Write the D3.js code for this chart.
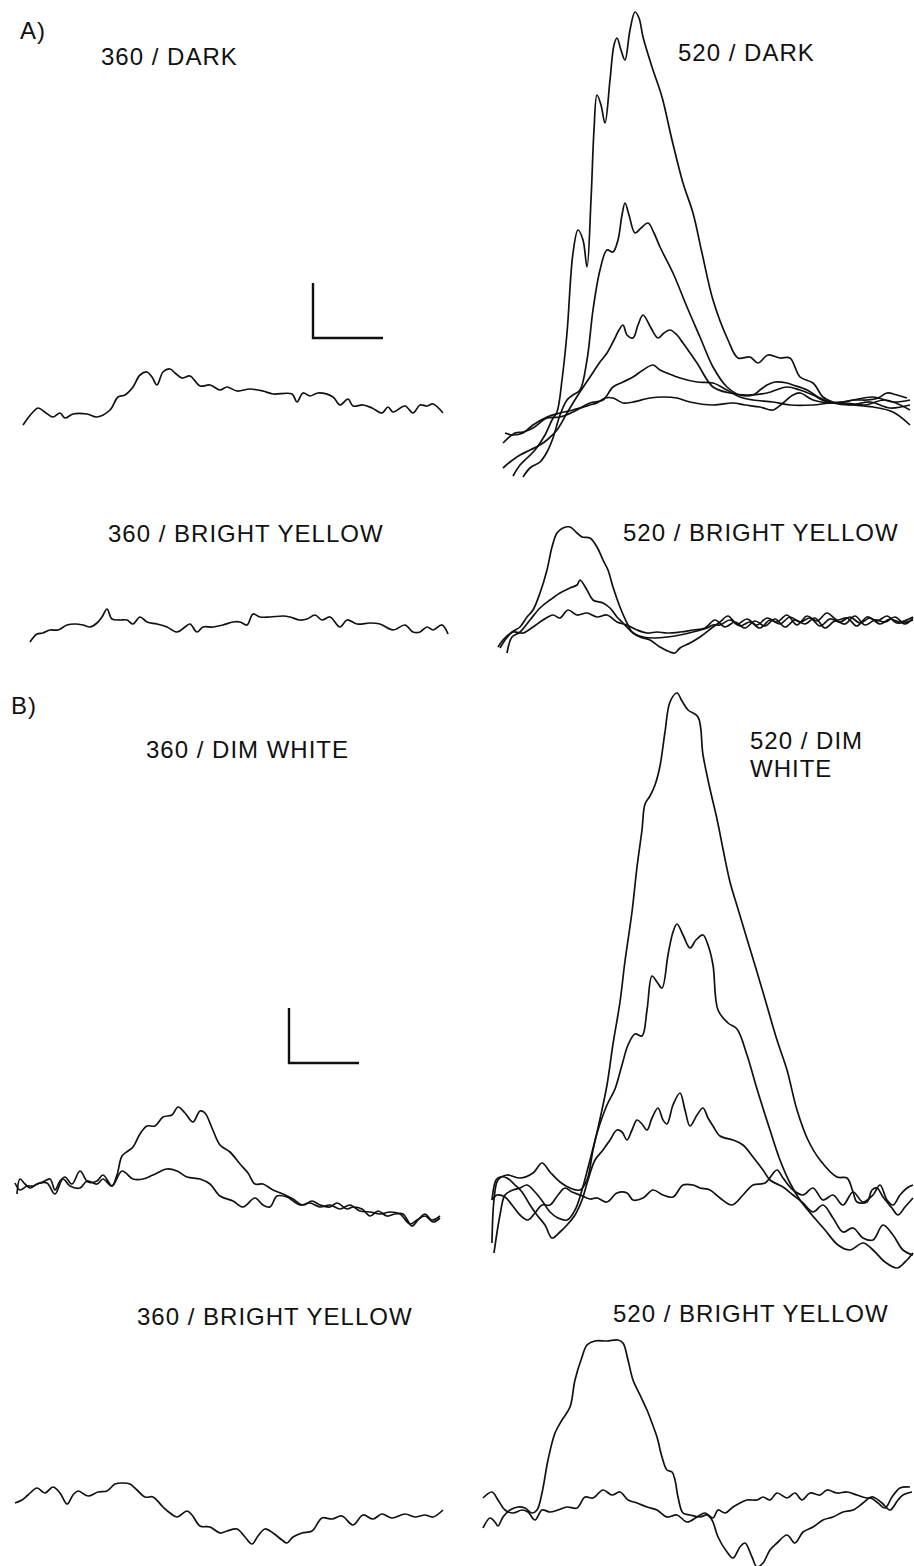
<!DOCTYPE html>
<html>
<head>
<meta charset="utf-8">
<script src="https://cdn.jsdelivr.net/npm/d3@7"></script>
<style>
  body { margin: 0; background: #fff; }
  svg { display: block; }
  .lbl { font-family: "Liberation Sans", Arial, Helvetica, sans-serif; font-size: 24px; fill: #111; letter-spacing: 1px; }
  .trace { fill: none; stroke: #111; stroke-width: 1.7; stroke-linejoin: round; }
  .bar { fill: none; stroke: #111; stroke-width: 2.4; }
</style>
</head>
<body>
<svg id="fig" width="914" height="1566"></svg>
<script>
/**
 * Traces: [time (ms), response (uV)] pairs.
 */
// A) 360 / DARK
var dark360 = [[3,0],[8,7],[13,13],[18,17],[26,12],[33,8],[40,12],[45,7],[53,11],[67,11],[77,8],[90,15],[98,28],[105,30],[113,38],[120,50],[127,53],[132,48],[137,40],[143,53],[150,56],[155,52],[162,47],[170,49],[180,39],[190,40],[200,35],[207,38],[217,34],[230,36],[243,34],[253,31],[272,31],[277,23],[283,32],[290,29],[298,32],[313,28],[320,20],[328,26],[333,19],[343,20],[352,17],[362,12],[368,18],[373,13],[385,19],[393,12],[400,20],[407,19],[413,21],[423,12]];

// A) 520 / DARK, five intensities
var dark520a = [[13,-6],[20,5],[27,12],[35,20],[45,35],[52,50],[57,58],[62,90],[67,137],[73,217],[78,240],[83,230],[87,203],[91,270],[94,340],[97,375],[101,365],[105,347],[110,390],[114,425],[117,432],[121,420],[125,410],[130,440],[135,458],[139,452],[143,433],[152,403],[162,373],[172,330],[183,287],[193,257],[202,217],[213,170],[228,130],[238,112],[250,113],[258,107],[268,115],[280,112],[290,112],[300,93],[313,87],[323,73],[333,68],[343,68],[355,70],[367,70],[378,72],[387,77],[397,75],[407,72]];
var dark520b = [[23,-7],[30,2],[40,8],[47,18],[53,32],[60,55],[67,70],[73,75],[80,80],[87,110],[93,160],[100,200],[107,220],[113,218],[118,230],[122,255],[125,267],[129,255],[135,237],[141,242],[148,247],[154,237],[160,223],[173,197],[187,163],[200,133],[213,103],[227,83],[240,75],[253,75],[260,80],[267,85],[275,88],[287,87],[293,85],[307,80],[320,72],[333,67],[350,65],[370,68],[390,62],[410,65]];
var dark520c = [[3,2],[10,8],[20,15],[30,20],[40,25],[47,30],[57,40],[67,57],[78,75],[90,93],[100,108],[107,117],[114,130],[119,140],[123,145],[127,135],[133,132],[138,145],[143,155],[151,142],[158,132],[164,137],[170,140],[177,135],[183,127],[197,107],[213,83],[230,77],[247,75],[267,77],[287,83],[300,80],[313,75],[327,68],[345,67],[365,65],[385,70],[410,60]];
var dark520d = [[3,27],[15,37],[23,38],[33,42],[47,52],[60,53],[73,58],[90,67],[103,70],[113,83],[123,88],[133,93],[143,100],[153,105],[160,100],[167,97],[180,92],[197,88],[213,87],[227,80],[240,73],[253,70],[273,68],[290,65],[313,65],[333,67],[353,65],[373,63],[393,58],[410,45]];
var dark520e = [[5,37],[13,35],[23,37],[33,45],[47,53],[60,57],[73,60],[90,65],[97,67],[105,72],[113,72],[123,67],[133,68],[150,72],[163,73],[177,72],[190,68],[213,65],[233,67],[245,65],[260,63],[273,60],[283,67],[293,75],[300,77],[313,70],[333,67],[353,70],[373,73],[393,68],[410,70]];

// A) 360 / BRIGHT YELLOW
var yellowA360 = [[5,-2],[12,6],[18,7],[25,10],[33,10],[42,15],[50,16],[58,15],[65,13],[72,17],[77,23],[82,31],[87,21],[95,20],[102,20],[108,16],[115,23],[122,18],[132,16],[142,13],[152,8],[160,13],[165,16],[172,8],[178,13],[188,13],[198,15],[208,18],[215,18],[222,15],[228,26],[235,23],[245,23],[258,24],[265,23],[275,20],[282,21],[290,25],[297,20],[305,23],[315,13],[322,20],[332,16],[345,17],[355,16],[368,10],[380,15],[388,8],[395,8],[402,13],[408,10],[417,15],[423,6]];

// A) 520 / BRIGHT YELLOW
var yellowA520a = [[5,-8],[10,0],[17,8],[25,13],[32,23],[38,30],[45,47],[52,70],[57,93],[62,107],[68,112],[75,113],[82,107],[87,103],[95,102],[102,93],[108,80],[113,70],[118,53],[125,33],[132,17],[138,7],[148,3],[158,2],[172,3],[185,5],[198,8],[212,12],[218,15],[225,15],[235,20],[245,14],[255,18],[265,12],[275,20],[285,16],[295,23],[305,18],[315,22],[325,14],[335,21],[345,18],[355,23],[365,17],[375,22],[385,16],[395,21],[405,18],[418,23]];
var yellowA520b = [[12,-13],[17,3],[25,8],[35,20],[45,32],[55,40],[65,47],[75,52],[82,55],[85,60],[92,50],[98,40],[108,37],[115,32],[122,23],[128,17],[137,8],[145,3],[155,0],[165,-7],[175,-12],[180,-13],[185,-8],[195,-3],[205,3],[218,13],[225,18],[233,24],[242,16],[252,21],[262,15],[272,22],[282,18],[292,25],[302,15],[312,24],[322,19],[332,27],[342,20],[352,22],[362,14],[372,23],[382,19],[392,24],[402,17],[418,20]];
var yellowA520c = [[3,-7],[8,0],[18,8],[28,7],[38,13],[48,20],[58,25],[65,22],[73,30],[82,25],[92,27],[102,23],[112,25],[122,18],[132,15],[142,10],[152,7],[162,8],[172,7],[185,8],[198,10],[210,12],[220,20],[230,13],[240,18],[250,12],[260,19],[270,14],[280,21],[290,13],[300,20],[310,16],[320,22],[330,12],[340,19],[350,16],[360,24],[370,15],[380,20],[390,18],[400,23],[410,16],[418,22]];

// B) 360 / DIM WHITE
var dim360a = [[7,46],[10,61],[15,56],[20,52],[27,56],[33,58],[40,61],[45,50],[50,59],[55,63],[62,56],[70,69],[78,58],[87,59],[93,65],[102,54],[107,65],[112,84],[118,89],[123,93],[130,106],[137,114],[145,114],[153,123],[162,125],[168,133],[175,127],[183,118],[190,129],[195,127],[202,112],[210,95],[220,88],[230,76],[238,67],[245,56],[253,56],[263,50],[273,46],[283,41],[293,35],[302,39],[310,35],[320,33],[327,37],[337,31],[343,33],[352,31],[360,24],[368,29],[377,24],[385,26],[393,26],[402,14],[408,20],[415,26],[422,20],[430,24]];
var dim360b = [[5,57],[10,50],[17,54],[23,54],[30,57],[37,57],[45,46],[53,61],[60,54],[70,52],[77,59],[87,56],[93,61],[102,54],[112,69],[123,61],[133,61],[143,65],[157,71],[167,69],[177,63],[190,61],[200,56],[210,44],[223,39],[233,33],[245,42],[253,35],[260,33],[267,44],[277,43],[290,35],[300,37],[310,33],[320,35],[330,31],[340,35],[350,29],[360,28],[370,26],[380,28],[390,26],[400,16],[407,20],[415,24],[423,18],[430,22]];

// B) 520 / DIM WHITE, four intensities
var dim520a = [[2,37],[4,80],[8,100],[17,105],[30,102],[43,107],[52,117],[60,108],[70,98],[80,92],[90,90],[97,100],[103,130],[110,161],[117,195],[123,236],[130,278],[135,319],[142,368],[147,413],[152,450],[155,476],[160,484],[165,495],[170,514],[175,548],[180,578],[187,587],[192,579],[198,570],[208,563],[213,525],[220,491],[227,461],[233,431],[240,398],[248,371],[257,341],[267,308],[277,274],[287,240],[297,210],[307,170],[318,140],[330,120],[347,103],[357,102],[363,88],[367,78],[377,78],[382,90],[387,92],[393,83],[402,72],[408,65],[415,73],[423,82]];
var dim520b = [[4,27],[10,65],[15,85],[23,90],[30,92],[37,95],[45,88],[53,78],[60,68],[68,62],[77,60],[85,70],[92,90],[100,120],[108,150],[117,175],[125,191],[132,215],[138,235],[145,246],[152,244],[157,270],[162,304],[167,298],[172,292],[178,325],[183,348],[187,356],[193,345],[200,332],[206,340],[213,345],[218,335],[223,315],[228,270],[238,257],[247,251],[257,225],[267,191],[280,150],[290,120],[300,97],[310,80],[322,65],[335,50],[348,35],[360,30],[373,37],[383,30],[395,18],[407,12],[415,18],[423,27]];
var dim520c = [[2,80],[6,100],[10,103],[17,102],[25,95],[32,88],[40,75],[47,65],[55,55],[62,42],[70,48],[77,55],[85,65],[92,80],[98,100],[105,120],[113,130],[120,140],[127,150],[132,148],[137,140],[142,150],[147,160],[152,156],[157,150],[162,162],[168,172],[173,160],[177,156],[183,175],[190,187],[195,170],[200,154],[207,165],[213,172],[218,162],[223,154],[230,144],[243,140],[253,135],[263,123],[273,110],[280,100],[293,93],[303,85],[313,77],[323,68],[333,75],[343,62],[353,48],[363,52],[373,42],[383,40],[393,55],[403,45],[413,30],[423,25]];
var dim520d = [[2,80],[7,85],[15,83],[22,75],[30,65],[38,60],[45,67],[52,75],[60,75],[68,85],[75,92],[82,88],[90,85],[100,81],[107,82],[117,78],[127,87],[137,87],[143,80],[153,82],[163,90],[173,85],[183,83],[193,95],[203,95],[210,92],[220,90],[230,82],[242,75],[253,85],[263,95],[275,97],[287,110],[293,102],[303,90],[313,85],[323,92],[333,80],[343,85],[353,75],[363,88],[373,78],[383,85],[390,95],[397,80],[403,75],[410,85],[417,92],[423,95]];

// B) 360 / BRIGHT YELLOW
var yellowB360 = [[5,47],[12,50],[18,55],[27,62],[35,57],[43,63],[50,57],[57,46],[63,55],[68,59],[78,54],[88,58],[97,59],[105,66],[113,67],[120,66],[127,60],[135,53],[143,53],[153,43],[160,37],[167,33],[177,39],[182,35],[190,24],[200,23],[210,17],[217,19],[227,21],[235,13],[242,6],[248,14],[255,21],[263,17],[272,10],[277,7],[283,13],[292,17],[302,19],[312,32],[322,31],[332,34],[343,25],[353,35],[363,31],[372,36],[382,32],[395,36],[405,33],[415,35],[423,33],[433,40]];

// B) 520 / BRIGHT YELLOW
var yellowB520a = [[3,42],[10,52],[15,48],[18,44],[23,53],[30,60],[38,63],[45,62],[52,57],[57,60],[62,77],[68,110],[75,137],[82,150],[90,163],[95,190],[102,213],[107,225],[115,229],[127,229],[138,230],[143,227],[148,210],[153,190],[160,175],[167,160],[172,147],[177,133],[182,113],[187,100],[192,98],[195,90],[198,73],[203,57],[210,55],[220,53],[227,55],[232,50],[238,33],[247,18],[253,12],[260,23],[265,27],[272,13],[277,3],[283,7],[290,20],[297,27],[307,35],[315,27],[323,38],[333,43],[343,50],[353,53],[363,58],[373,60],[383,67],[390,72],[398,67],[405,62],[412,73],[420,82],[430,83]];
var yellowB520b = [[3,72],[12,78],[18,70],[25,60],[33,57],[42,60],[48,58],[55,50],[62,60],[70,58],[78,60],[87,63],[97,62],[105,73],[113,72],[123,80],[132,75],[140,78],[148,70],[157,67],[167,63],[177,60],[187,53],[197,55],[207,48],[217,53],[225,57],[233,52],[238,60],[245,57],[253,63],[260,67],[267,70],[277,70],[283,73],[290,70],[297,77],[307,72],[315,77],[322,70],[330,77],[340,75],[347,80],[357,77],[367,78],[377,75],[387,72],[393,73],[402,67],[410,60],[418,70],[423,75],[432,78]];

// calibration bars: [time, amplitude] sizes and where they sit in their panel
var calBar = [70, 55];

var panels = [
  { name: "360 / DARK", left: 20, base: 425, traces: [dark360], label: [81, 360], bar: [293, 87] },
  { name: "520 / DARK", left: 500, base: 470, traces: [dark520a, dark520b, dark520c, dark520d, dark520e], label: [178, 409] },
  { name: "360 / BRIGHT YELLOW", left: 25, base: 640, traces: [yellowA360], label: [83, 98] },
  { name: "520 / BRIGHT YELLOW", left: 495, base: 640, traces: [yellowA520a, yellowA520b, yellowA520c], label: [128, 99] },
  { name: "360 / DIM WHITE", left: 10, base: 1240, traces: [dim360a, dim360b], label: [136, 482], bar: [279, 177] },
  { name: "520 / DIM|WHITE", left: 490, base: 1280, traces: [dim520a, dim520b, dim520c, dim520d], label: [260, 531] },
  { name: "360 / BRIGHT YELLOW", left: 10, base: 1550, traces: [yellowB360], label: [127, 225] },
  { name: "520 / BRIGHT YELLOW", left: 480, base: 1570, traces: [yellowB520a, yellowB520b], label: [133, 248] }
];

var sections = [["A)", 20, 39], ["B)", 11, 714]];

var svg = d3.select("#fig");
svg.append("rect").attr("width", 914).attr("height", 1566).attr("fill", "#fff");

sections.forEach(function (s) {
  svg.append("text").attr("class", "lbl").attr("x", s[1]).attr("y", s[2]).text(s[0]);
});

panels.forEach(function (p) {
  var x = d3.scaleLinear().domain([0, 430]).range([p.left, p.left + 430]);
  var y = d3.scaleLinear().domain([0, 600]).range([p.base, p.base - 600]);
  var line = d3.line()
    .x(function (d) { return x(d[0]); })
    .y(function (d) { return y(d[1]); })
    .curve(d3.curveCatmullRom.alpha(0.5));

  var g = svg.append("g");
  g.selectAll("path.trace")
    .data(p.traces)
    .enter().append("path")
    .attr("class", "trace")
    .attr("d", line);

  var lines = p.name.split("|");
  var t = g.append("text").attr("class", "lbl");
  lines.forEach(function (s, i) {
    t.append("tspan")
      .attr("x", x(p.label[0]))
      .attr("y", y(p.label[1]) + i * 28)
      .text(s);
  });

  if (p.bar) {
    var bx = p.bar[0], by = p.bar[1];
    g.append("path")
      .attr("class", "bar")
      .attr("d", "M" + x(bx) + "," + y(by + calBar[1]) +
        "V" + y(by) + "H" + x(bx + calBar[0]));
  }
});
</script>
</body>
</html>
